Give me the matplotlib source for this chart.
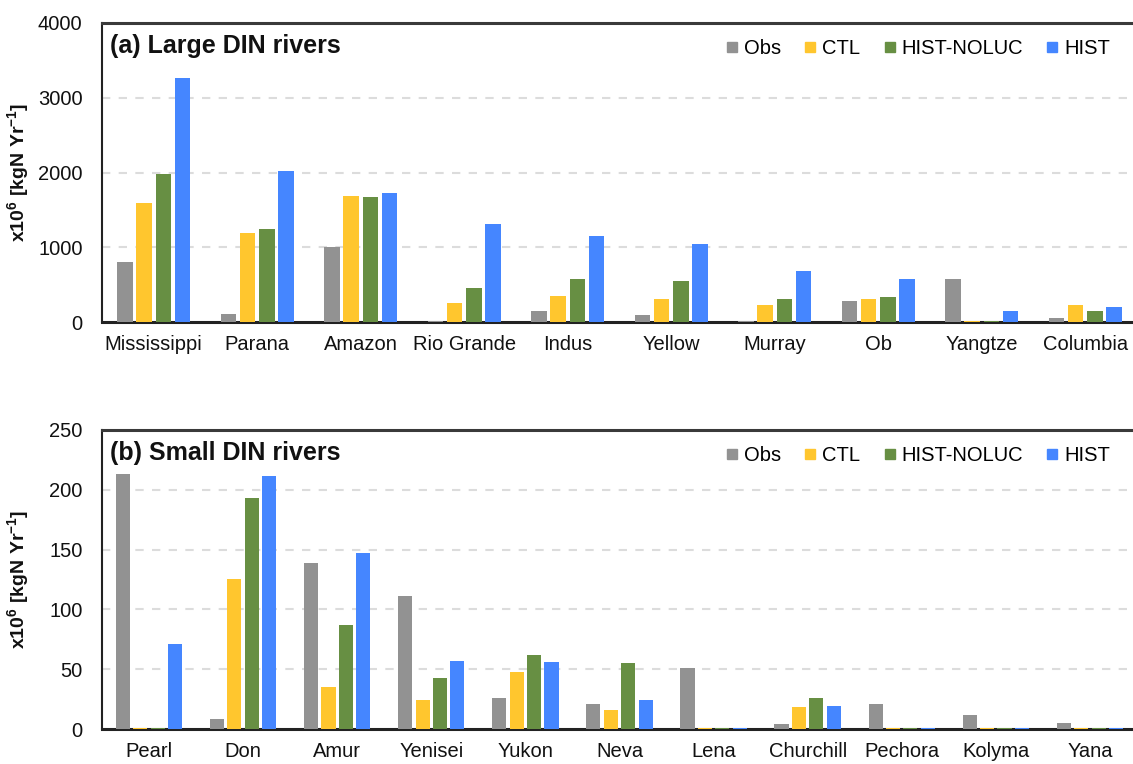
import numpy as np
import matplotlib
matplotlib.use('Agg')
import matplotlib.pyplot as plt
from matplotlib.lines import Line2D

plt.rcParams['font.family'] = ['Liberation Sans', 'DejaVu Sans']
plt.rcParams['mathtext.fontset'] = 'custom'
plt.rcParams['mathtext.rm'] = 'Liberation Sans'
plt.rcParams['mathtext.bf'] = 'Liberation Sans:bold'

series = ['Obs', 'CTL', 'HIST-NOLUC', 'HIST']
colors = ['#929292', '#FFC62E', '#678F43', '#4586FF']

# (a) large DIN rivers
large_rivers = ['Mississippi', 'Parana', 'Amazon', 'Rio Grande', 'Indus',
                'Yellow', 'Murray', 'Ob', 'Yangtze', 'Columbia']
large_obs = [805, 105, 1005, 8, 150, 95, 10, 275, 580, 50]
large_ctl = [1595, 1190, 1690, 255, 350, 305, 228, 305, 15, 225]
large_noluc = [1975, 1245, 1675, 455, 578, 550, 308, 333, 12, 148]
large_hist = [3265, 2025, 1728, 1315, 1150, 1043, 685, 582, 148, 198]

# (b) small DIN rivers
small_rivers = ['Pearl', 'Don', 'Amur', 'Yenisei', 'Yukon', 'Neva', 'Lena',
                'Churchill', 'Pechora', 'Kolyma', 'Yana']
small_obs = [213, 8, 139, 111, 26, 21, 51, 4, 21, 11.5, 5]
small_ctl = [1, 125, 35, 24, 48, 16, 1, 18, 1, 1, 1]
small_noluc = [1, 193, 87, 43, 62, 55.5, 1, 26, 1, 1, 1]
small_hist = [71, 211.5, 147, 57, 56, 24, 1, 19, 1, 1, 1]


def draw_panel(ax, rivers, data, ymax, ystep, title):
    x = np.arange(len(rivers))
    pitch = 0.185
    for k, vals in enumerate(data):
        ax.bar(x + (k - 1.5) * pitch, vals, width=0.15, color=colors[k],
               zorder=3)
    ax.set_xlim(-0.5, len(rivers) - 0.5)
    ax.set_ylim(0, ymax)
    ax.set_yticks(np.arange(0, ymax + 1, ystep))
    ax.set_xticks(x)
    ax.set_xticklabels(rivers)
    ax.tick_params(axis='both', length=0, labelsize=14.5, colors='#111111')
    ax.tick_params(axis='y', pad=14)
    ax.tick_params(axis='x', pad=9)
    for t in np.arange(ystep, ymax, ystep):
        ax.axhline(t, color='#dcdcdc', lw=1.5, ls=(0, (4, 4)), zorder=1)
    ax.spines['top'].set_color('#3a3a3a')
    ax.spines['top'].set_linewidth(2.2)
    ax.spines['left'].set_color('#222222')
    ax.spines['left'].set_linewidth(1.5)
    ax.spines['bottom'].set_color('#222222')
    ax.spines['bottom'].set_linewidth(2.2)
    ax.spines['right'].set_visible(False)
    ax.text(0.008, 0.963, title, transform=ax.transAxes, fontsize=18,
            fontweight='bold', va='top', ha='left', color='#111111')
    ax.set_ylabel(r'x10$^\mathbf{6}$ [kgN Yr$^\mathbf{-1}$]', fontsize=14,
                  fontweight='bold', color='#111111')
    ax.yaxis.set_label_coords(-0.068, 0.5)
    handles = [Line2D([], [], marker='s', ls='none', color=c, markersize=7.5)
               for c in colors]
    leg = ax.legend(handles, series, ncol=4, loc='upper right',
                    bbox_to_anchor=(0.988, 0.995), frameon=False,
                    fontsize=14.5, handlelength=0.6, handletextpad=0.3,
                    columnspacing=1.15, borderaxespad=0.3)
    for h in leg.legend_handles:
        h.set_markersize(7.5)


fig = plt.figure(figsize=(11.33, 7.64), dpi=100)
ax1 = fig.add_axes([0.090, 0.5785, 0.9135, 0.3914])
ax2 = fig.add_axes([0.090, 0.0458, 0.9135, 0.3914])

draw_panel(ax1, large_rivers, [large_obs, large_ctl, large_noluc, large_hist],
           4000, 1000, '(a) Large DIN rivers')
draw_panel(ax2, small_rivers, [small_obs, small_ctl, small_noluc, small_hist],
           250, 50, '(b) Small DIN rivers')

fig.savefig('out.png', dpi=100)
